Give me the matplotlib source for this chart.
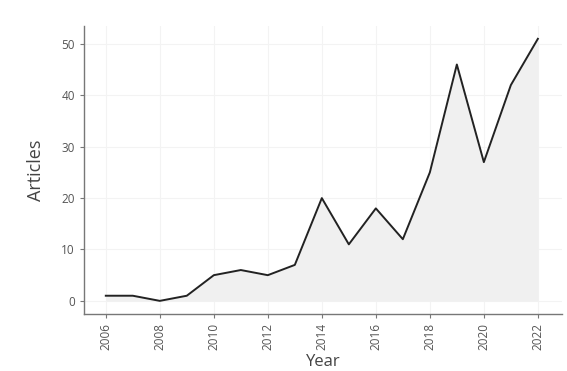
import matplotlib.pyplot as plt

years = [2006, 2007, 2008, 2009, 2010, 2011, 2012, 2013, 2014, 2015, 2016,
         2017, 2018, 2019, 2020, 2021, 2022]
articles = [1, 1, 0, 1, 5, 6, 5, 7, 20, 11, 18, 12, 25, 46, 27, 42, 51]
xticks = list(range(2006, 2023, 2))
yticks = [0, 10, 20, 30, 40, 50]

plt.rcParams['font.family'] = ['Open Sans', 'DejaVu Sans']

fig = plt.figure(figsize=(5.67, 3.71), dpi=100)
ax = fig.add_axes([0.148, 0.154, 0.843, 0.776])

ax.fill_between(years, articles, 0, color="#f0f0f0", linewidth=0)
ax.plot(years, articles, color="#222222", linewidth=1.4)

ax.set_xlim(2005.19, 2022.89)
ax.set_ylim(-2.53, 53.5)
ax.set_xticks(xticks)
ax.set_yticks(yticks)
ax.set_xticklabels([str(x) for x in xticks], rotation=90)
ax.grid(True, color="#f3f3f3", linewidth=0.8)
ax.set_axisbelow(True)

for s in ["top", "right"]:
    ax.spines[s].set_visible(False)
for s in ["left", "bottom"]:
    ax.spines[s].set_color("#777777")
    ax.spines[s].set_linewidth(1.0)

ax.tick_params(colors="#555555", labelsize=8.5, length=3, width=0.8)
ax.tick_params(axis="both", color="#777777")
ax.set_xlabel("Year", fontsize=12, color="#444444", labelpad=3)
ax.set_ylabel("Articles", fontsize=13, color="#444444", labelpad=12)

fig.savefig("out.png", dpi=100)
plt.close(fig)
